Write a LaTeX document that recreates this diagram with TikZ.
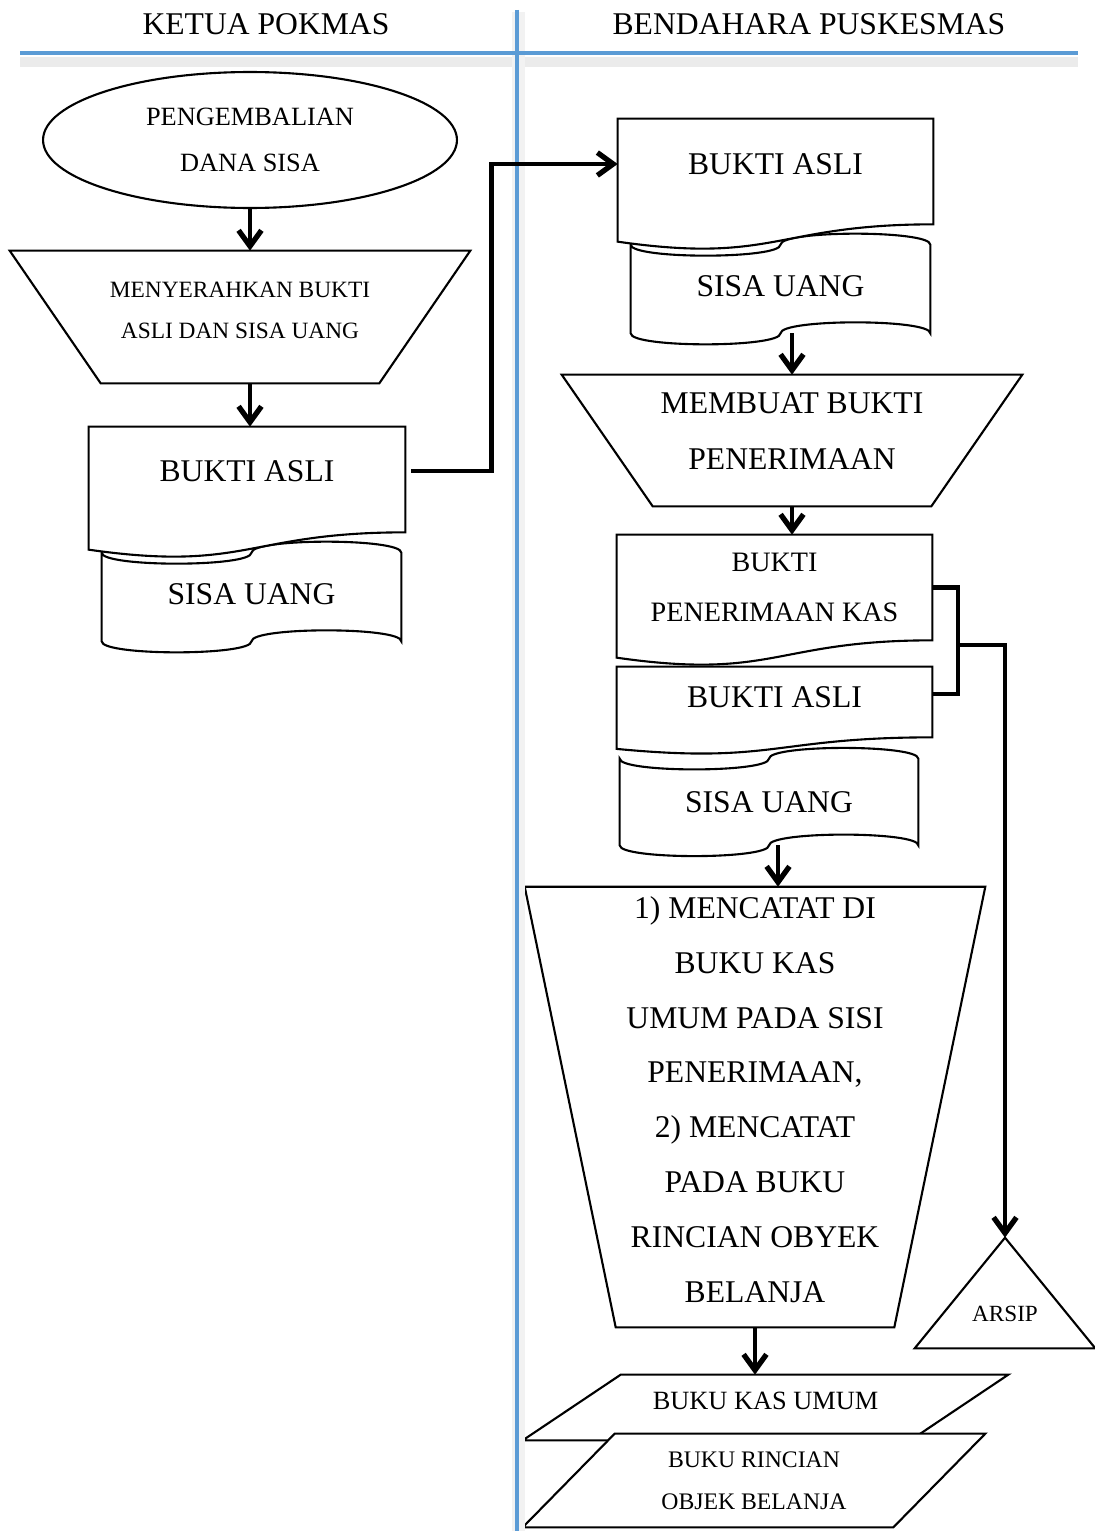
\documentclass[tikz,border=0pt]{standalone}
\usepackage{fontspec}
\setmainfont{Liberation Serif}
\usetikzlibrary{shapes.geometric,arrows.meta}
\pgfdeclarelayer{latar}
\pgfsetlayers{latar,main}
\definecolor{garisbiru}{HTML}{5B9BD5}
\newcommand\fs[2]{\fontsize{#1}{#2}\selectfont}
\newcommand\naik[1]{\rule[-#1]{0pt}{0pt}}

% outlines, drawn behind the texts (node, size in px)
\newcommand\dokumen[2]{%
  \begin{pgfonlayer}{latar}
  \draw[garisbentuk] (#1.north west) -- (#1.north east) -- (#1.south east)
    .. controls (#1.south) and ([shift={(0,0.381*#2)}]#1.south)
    .. ([shift={(0,0.165*#2)}]#1.south west) -- cycle;
  \end{pgfonlayer}}
\newcommand\pita[2]{%
  \begin{pgfonlayer}{latar}
  \draw[garisbentuk] (#1.north west) .. controls +(0,1.333*#2) and +(0,1.333*#2) .. (#1.north)
    .. controls +(0,-1.333*#2) and +(0,-1.333*#2) .. (#1.north east) -- (#1.south east)
    .. controls +(0,-1.333*#2) and +(0,-1.333*#2) .. (#1.south)
    .. controls +(0,1.333*#2) and +(0,1.333*#2) .. (#1.south west) -- cycle;
  \end{pgfonlayer}}
\newcommand\manop[2]{%
  \begin{pgfonlayer}{latar}
  \draw[garisbentuk] (#1.north west) -- (#1.north east) -- ([shift={(-#2,0)}]#1.south east)
    -- ([shift={(#2,0)}]#1.south west) -- cycle;
  \end{pgfonlayer}}
\newcommand\jajar[2]{%
  \begin{pgfonlayer}{latar}
  \draw[garisbentuk] ([shift={(#2,0)}]#1.north west) -- (#1.north east)
    -- ([shift={(-#2,0)}]#1.south east) -- (#1.south west) -- cycle;
  \end{pgfonlayer}}
\newcommand\segitiga[1]{%
  \begin{pgfonlayer}{latar}
  \draw[garisbentuk] (#1.north) -- (#1.south east) -- (#1.south west) -- cycle;
  \end{pgfonlayer}}

\begin{document}
\begin{tikzpicture}[x=0.02cm, y=-0.02cm]
    \tikzstyle{kotak} = [inner sep=0pt, align=center]
    \tikzstyle{garisbentuk} = [draw, line width=1.2pt, fill=white]
    \tikzstyle{garis} = [line width=2.8pt]
    \tikzstyle{panah} = [garis, -{Straight Barb[length=9pt,width=13pt,line width=3pt]}]
    \useasboundingbox (0,0) rectangle (1095,1531);

    % lanes
    \draw[black!8, line width=0.2cm] (20,62) -- (1078,62);
    \draw[black!5, line width=0.26cm] (518,12) -- (518,1531);
    \draw[garisbiru, line width=0.09cm] (20,53) -- (1078,53);
    \draw[garisbiru, line width=0.09cm] (517,10) -- (517,1531);
    \node[kotak, font=\fs{18}{20}] (kiri) at (266,24) {KETUA POKMAS};
    \node[kotak, font=\fs{18}{20}] (kanan) at (809,24) {BENDAHARA PUSKESMAS};

    % Ketua Pokmas
    \node[ellipse, draw, line width=1.2pt, minimum width=8.28cm, minimum height=2.72cm,
      inner sep=0pt, align=center, font=\fs{15}{26.2}] (mulai) at (250,140) {PENGEMBALIAN\\DANA SISA};
    \node[kotak, minimum width=9.2cm, minimum height=2.64cm, font=\fs{13.3}{23.3}] (serah) at (240,317)
      {MENYERAHKAN BUKTI\\ASLI DAN SISA UANG\naik{0.26cm}};
    \manop{serah}{91}
    \node[kotak, minimum width=5.98cm, minimum height=1.76cm, font=\fs{18}{20}] (uang1) at (251.5,597) {SISA UANG\naik{0.12cm}};
    \pita{uang1}{11}
    \node[kotak, minimum width=6.32cm, minimum height=2.1cm, font=\fs{18}{20}] (asli1) at (247,479.5) {BUKTI ASLI\naik{0.34cm}};
    \dokumen{asli1}{105}

    % Bendahara Puskesmas
    \node[kotak, minimum width=5.98cm, minimum height=1.76cm, font=\fs{18}{20}] (uang2) at (780.5,289) {SISA UANG\naik{0.12cm}};
    \pita{uang2}{11}
    \node[kotak, minimum width=6.3cm, minimum height=2.1cm, font=\fs{18}{20}] (asli2) at (775.5,171.5) {BUKTI ASLI\naik{0.3cm}};
    \dokumen{asli2}{105}
    \node[kotak, minimum width=9.2cm, minimum height=2.62cm, font=\fs{18}{31.9}] (membuat) at (792,440.5)
      {MEMBUAT BUKTI\\PENERIMAAN\naik{0.38cm}};
    \manop{membuat}{91}
    \node[kotak, minimum width=6.3cm, minimum height=2.1cm, font=\fs{16}{28.5}] (pk) at (774.5,587.5) {BUKTI\\PENERIMAAN KAS};
    \dokumen{pk}{105}
    \node[kotak, minimum width=6.3cm, minimum height=1.4cm, font=\fs{18}{20}] (asli3) at (774.5,702) {BUKTI ASLI\naik{0.2cm}};
    \dokumen{asli3}{70}
    \node[kotak, minimum width=5.96cm, minimum height=1.72cm, font=\fs{18}{20}] (uang3) at (769,802) {SISA UANG};
    \pita{uang3}{10.75}
    \node[kotak, minimum width=9.2cm, minimum height=8.8cm, font=\fs{18}{31.3}] (catat) at (755,1107)
      {1) MENCATAT DI\\BUKU KAS\\UMUM PADA SISI\\PENERIMAAN,\\2) MENCATAT\\PADA BUKU\\RINCIAN OBYEK\\BELANJA\naik{0.3cm}};
    \manop{catat}{91}
    \node[kotak, minimum width=9.7cm, minimum height=1.3cm, font=\fs{15}{20}] (bkas) at (765.5,1407.5) {BUKU KAS UMUM\naik{0.26cm}};
    \jajar{bkas}{98}
    \node[kotak, minimum width=9.24cm, minimum height=1.86cm, font=\fs{13.5}{23.9}] (brincian) at (754,1480.5)
      {BUKU RINCIAN\\OBJEK BELANJA};
    \jajar{brincian}{92}
    \node[kotak, minimum width=3.6cm, minimum height=2.2cm, font=\fs{13.2}{16}] (arsip) at (1005,1293) {\rule{0pt}{1.14cm}ARSIP};
    \segitiga{arsip}

    % alur
    \draw[panah] (mulai.south) -- (mulai.south |- serah.north);
    \draw[panah] (mulai.south |- serah.south) -- (mulai.south |- asli1.north);
    \draw[panah] ([xshift=0.12cm, yshift=0.17cm]asli1.east) -- ++(80,0) |- ([yshift=0.15cm]asli2.west);
    \draw[panah] (membuat.north |- uang2.south) -- (membuat.north);
    \draw[panah] (membuat.south) -- (membuat.south |- pk.north);
    \draw[panah] ([xshift=0.18cm]uang3.south) -- ([xshift=0.18cm]uang3.south |- catat.north);
    \draw[panah] (catat.south) -- (catat.south |- bkas.north);
    \coordinate (kurung) at (958,645);
    \draw[garis] (pk.east) -| (kurung) |- ([yshift=0.16cm]asli3.east);
    \draw[panah] (kurung) -| (arsip.north);
\end{tikzpicture}
\end{document}
